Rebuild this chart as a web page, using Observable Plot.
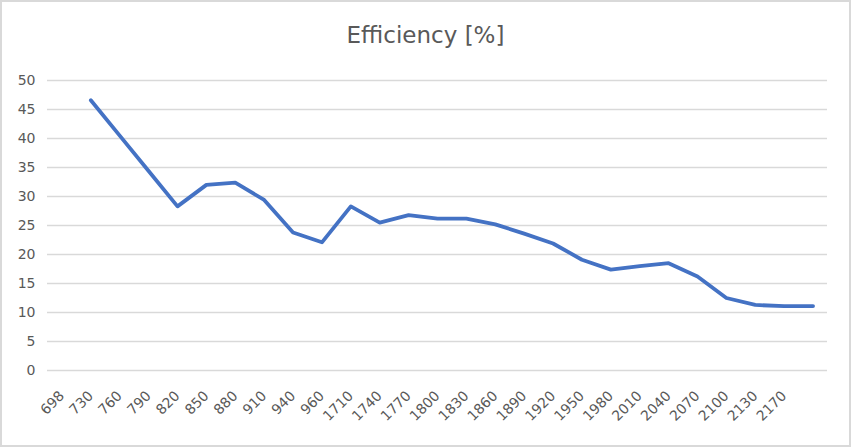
<!DOCTYPE html>
<html>
<head>
<meta charset="utf-8">
<script src="https://cdn.jsdelivr.net/npm/d3@7"></script>
<script src="https://cdn.jsdelivr.net/npm/@observablehq/plot@0.6"></script>
<style>
  html, body { margin: 0; padding: 0; background: #fff; }
  #wrap { position: relative; width: 851px; height: 447px; overflow: hidden; font-family: "DejaVu Sans", sans-serif; }
  #title { position: absolute; left: 0; top: 24px; width: 851px; text-align: center; font-size: 23px; color: #595959; line-height: 23px; }
  #chart { position: absolute; left: 0; top: 62px; }
  #frame { position: absolute; left: 0; top: 0; width: 847px; height: 443px; border: 2px solid #d9d9d9; pointer-events: none; }
</style>
</head>
<body>
<div id="wrap">
  <div id="title">Efficiency [%]</div>
  <div id="chart"></div>
  <div id="frame"></div>
</div>
<script>
const frequencies = ["698","730","760","790","820","850","880","910","940","960","1710","1740","1770","1800","1830","1860","1890","1920","1950","1980","2010","2040","2070","2100","2130","2170",""];
const efficiency = [null,46.6,40.5,34.4,28.3,32.0,32.4,29.4,23.8,22.1,28.3,25.5,26.8,26.2,26.2,25.2,23.6,21.9,19.1,17.4,18.0,18.5,16.2,12.5,11.3,11.1,11.1];
const yTicks = [0,5,10,15,20,25,30,35,40,45,50];

const data = frequencies.map((f, i) => ({freq: f, eff: efficiency[i]}));

const chart = Plot.plot({
  width: 851,
  height: 385,
  marginLeft: 47,
  marginRight: 24,
  marginTop: 18,
  marginBottom: 77,
  style: {fontFamily: "'DejaVu Sans', sans-serif", fontSize: "14px", color: "#595959", background: "transparent"},
  x: {type: "point", domain: frequencies, padding: 0.5, align: 0.5, round: false, label: null},
  y: {domain: [0, 50], label: null},
  marks: [
    Plot.gridY(yTicks, {stroke: "#d9d9d9", strokeOpacity: 1, strokeWidth: 1.6}),
    Plot.axisY(yTicks, {tickSize: 0, tickPadding: 12, label: null, fill: "#595959", fontSize: 14}),
    Plot.axisX({tickSize: 0, tickPadding: 23, tickRotate: -45, label: null, fill: "#595959", fontSize: 14}),
    Plot.line(data, {x: "freq", y: "eff", stroke: "#4472c4", strokeWidth: 3.8, strokeLinejoin: "round", strokeLinecap: "round", defined: d => d.eff != null})
  ]
});
document.getElementById("chart").appendChild(chart);
</script>
</body>
</html>
